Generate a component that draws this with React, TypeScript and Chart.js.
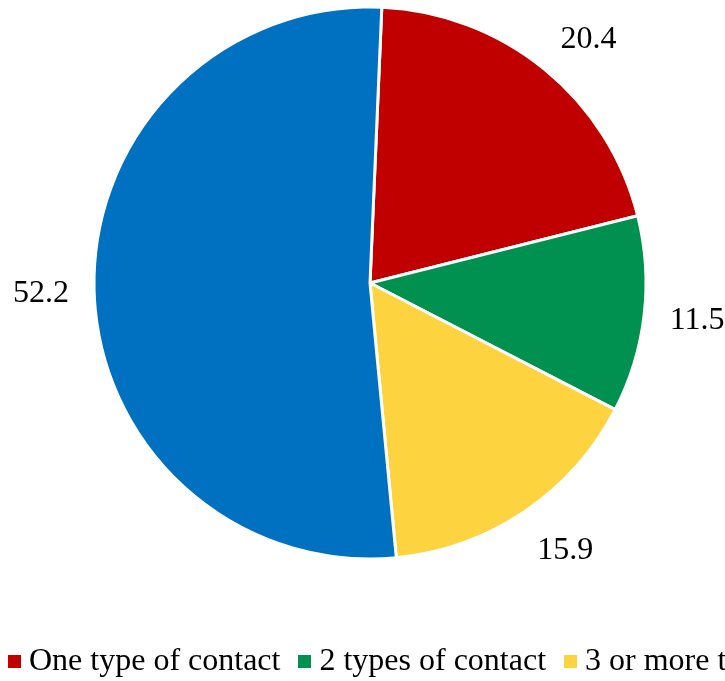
import React, { useEffect, useRef } from "react";
import { Chart, registerables } from "chart.js";

Chart.register(...registerables);

const categories = [
  "One type of contact",
  "2 types of contact",
  "3 or more types of contact",
  "No contact",
];
const values = [20.4, 11.5, 15.9, 52.2];
const valueLabels = ["20.4", "11.5", "15.9", "52.2"];
const colors = ["#C00000", "#00904F", "#FED340", "#0070C0"];

const FONT = '"Liberation Serif", "Times New Roman", Times, serif';

const outerLabels = {
  id: "outerLabels",
  afterDatasetsDraw(chart: any) {
    const ctx = chart.ctx;
    const meta = chart.getDatasetMeta(0);
    ctx.save();
    ctx.font = `32px ${FONT}`;
    ctx.fillStyle = "#000000";
    ctx.textAlign = "center";
    ctx.textBaseline = "middle";
    meta.data.forEach((arc: any, i: number) => {
      const p = arc.getProps(["x", "y", "startAngle", "endAngle", "outerRadius"], true);
      let mid = (p.startAngle + p.endAngle) / 2;
      // pull diagonal labels slightly toward the horizontal, like the original
      mid -= (2.5 * Math.PI / 180) * Math.sin(2 * mid);
      const r = p.outerRadius + 53;
      ctx.fillText(valueLabels[i], p.x + Math.cos(mid) * r, p.y + Math.sin(mid) * r + 3);
    });
    ctx.restore();
  },
};

export default function App() {
  const ref = useRef<HTMLCanvasElement | null>(null);

  useEffect(() => {
    if (!ref.current) return;
    const chart = new Chart(ref.current, {
      type: "pie",
      data: {
        labels: categories,
        datasets: [
          {
            data: values,
            backgroundColor: colors,
            borderColor: "#FFFFFF",
            borderWidth: 3,
          },
        ],
      },
      options: {
        responsive: false,
        animation: false,
        rotation: 2.45,
        radius: 276,
        layout: { padding: { left: 15, right: 0, top: 0, bottom: 115 } },
        plugins: {
          legend: { display: false },
          tooltip: { enabled: false },
        },
      },
      plugins: [outerLabels],
    });
    return () => chart.destroy();
  }, []);

  return (
    <div
      style={{
        position: "fixed",
        left: 0,
        top: 0,
        width: 725,
        height: 681,
        overflow: "hidden",
        background: "#FFFFFF",
      }}
    >
      <canvas ref={ref} width={725} height={681} style={{ display: "block", width: 725, height: 681 }} />
      <div
        style={{
          position: "absolute",
          left: 8,
          top: 643,
          width: "max-content",
          whiteSpace: "nowrap",
          fontFamily: FONT,
          fontSize: 32,
          lineHeight: "32px",
          color: "#000000",
          display: "flex",
          flexWrap: "nowrap",
        }}
      >
        {categories.map((c, i) => (
          <span
            key={c}
            style={{ display: "inline-flex", alignItems: "center", marginRight: 18, flexShrink: 0 }}
          >
            <span
              style={{
                display: "inline-block",
                width: 13,
                height: 13,
                background: colors[i],
                marginRight: 8,
                marginTop: 4,
                flexShrink: 0,
              }}
            />
            <span>{c}</span>
          </span>
        ))}
      </div>
    </div>
  );
}
